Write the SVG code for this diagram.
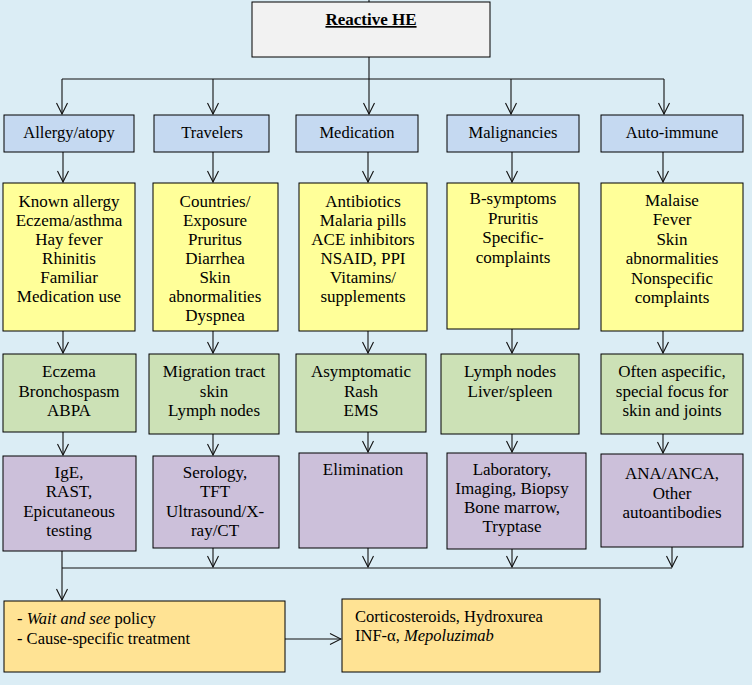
<svg xmlns="http://www.w3.org/2000/svg" width="752" height="685" viewBox="0 0 752 685" font-family="'Liberation Serif', 'Times New Roman', 'DejaVu Serif', serif">
<style>
text{font-family:'Liberation Serif','Times New Roman','DejaVu Serif',serif;font-size:17px;fill:#000;text-anchor:middle}
.box{stroke:#000;stroke-width:1}
.top{fill:#f2f2f2}
.blue{fill:#c5d9f1}
.yel{fill:#ffff99}
.grn{fill:#cce1b6}
.pur{fill:#ccc0da}
.org{fill:#ffe394}
.lbl{font-size:16.5px}
.bt{font-size:16.5px;text-anchor:start}
.con{fill:none;stroke:#111;stroke-width:1.1}
</style>
<defs>
<marker id="arr" viewBox="-12 -6 13 12" refX="0" refY="0" markerWidth="13" markerHeight="12" orient="auto" markerUnits="userSpaceOnUse">
<path d="M-11,-5.5 L0,0 L-11,5.5" fill="none" stroke="#111" stroke-width="1.1"/>
</marker>
</defs>
<rect x="0" y="0" width="752" height="685" fill="#dbedf5"/>

<g id="connectors">
<path class="con" d="M369,0 V2"/>
<path class="con" d="M369,57 V79 M62,79 H664"/>
<path class="con" marker-end="url(#arr)" d="M62,79 V114"/>
<path class="con" marker-end="url(#arr)" d="M213,79 V114"/>
<path class="con" marker-end="url(#arr)" d="M369,79 V114"/>
<path class="con" marker-end="url(#arr)" d="M511,79 V114"/>
<path class="con" marker-end="url(#arr)" d="M664,79 V114"/>

<path class="con" marker-end="url(#arr)" d="M63,152 V182"/>
<path class="con" marker-end="url(#arr)" d="M213,152 V182"/>
<path class="con" marker-end="url(#arr)" d="M368,152 V182"/>
<path class="con" marker-end="url(#arr)" d="M512,152 V182"/>
<path class="con" marker-end="url(#arr)" d="M663,152 V182"/>

<path class="con" marker-end="url(#arr)" d="M63,331 V353"/>
<path class="con" marker-end="url(#arr)" d="M213,331 V353"/>
<path class="con" marker-end="url(#arr)" d="M368,331 V353"/>
<path class="con" marker-end="url(#arr)" d="M512,329 V353"/>
<path class="con" marker-end="url(#arr)" d="M663,331 V353"/>

<path class="con" marker-end="url(#arr)" d="M63,432 V455"/>
<path class="con" marker-end="url(#arr)" d="M213,434 V455"/>
<path class="con" marker-end="url(#arr)" d="M368,432 V452"/>
<path class="con" marker-end="url(#arr)" d="M512,434 V452"/>
<path class="con" marker-end="url(#arr)" d="M663,434 V453"/>

<path class="con" d="M62,568 H672"/>
<path class="con" marker-end="url(#arr)" d="M62,551 V600"/>
<path class="con" marker-end="url(#arr)" d="M213,548 V567"/>
<path class="con" marker-end="url(#arr)" d="M368,548 V567"/>
<path class="con" marker-end="url(#arr)" d="M512,549 V567"/>
<path class="con" marker-end="url(#arr)" d="M672,547 V567"/>

<path class="con" marker-end="url(#arr)" d="M285,639 H341"/>
</g>

<g id="reactive-he">
<rect class="box top" x="252" y="2" width="238" height="55"/>
<text x="371" y="25" font-weight="bold" text-decoration="underline">Reactive HE</text>
</g>

<g id="allergy">
<rect class="box blue" x="4" y="115" width="130" height="37"/>
<text class="lbl" x="69" y="138">Allergy/atopy</text>
</g>
<g id="travelers">
<rect class="box blue" x="154" y="115" width="115" height="37"/>
<text class="lbl" x="212" y="138">Travelers</text>
</g>
<g id="medication">
<rect class="box blue" x="296" y="115" width="122" height="37"/>
<text class="lbl" x="357" y="138">Medication</text>
</g>
<g id="malignancies">
<rect class="box blue" x="447" y="115" width="132" height="37"/>
<text class="lbl" x="513" y="138">Malignancies</text>
</g>
<g id="auto-immune">
<rect class="box blue" x="601" y="115" width="142" height="37"/>
<text class="lbl" x="672" y="138">Auto-immune</text>
</g>

<g id="allergy-symptoms">
<rect class="box yel" x="3" y="183" width="132" height="148"/>
<text x="69" y="207"><tspan x="69">Known allergy</tspan><tspan x="69" dy="19">Eczema/asthma</tspan><tspan x="69" dy="19">Hay fever</tspan><tspan x="69" dy="19">Rhinitis</tspan><tspan x="69" dy="19">Familiar</tspan><tspan x="69" dy="19">Medication use</tspan></text>
</g>
<g id="travelers-symptoms">
<rect class="box yel" x="153" y="183" width="125" height="148"/>
<text x="215" y="207"><tspan x="215">Countries/</tspan><tspan x="215" dy="19">Exposure</tspan><tspan x="215" dy="19">Pruritus</tspan><tspan x="215" dy="19">Diarrhea</tspan><tspan x="215" dy="19">Skin</tspan><tspan x="215" dy="19">abnormalities</tspan><tspan x="215" dy="19">Dyspnea</tspan></text>
</g>
<g id="medication-symptoms">
<rect class="box yel" x="299" y="183" width="128" height="148"/>
<text x="363" y="207"><tspan x="363">Antibiotics</tspan><tspan x="363" dy="19">Malaria pills</tspan><tspan x="363" dy="19">ACE inhibitors</tspan><tspan x="363" dy="19">NSAID, PPI</tspan><tspan x="363" dy="19">Vitamins/</tspan><tspan x="363" dy="19">supplements</tspan></text>
</g>
<g id="malignancies-symptoms">
<rect class="box yel" x="447" y="183" width="132" height="146"/>
<text x="513" y="204"><tspan x="513">B-symptoms</tspan><tspan x="513" dy="19.5">Pruritis</tspan><tspan x="513" dy="19.5">Specific-</tspan><tspan x="513" dy="19.5">complaints</tspan></text>
</g>
<g id="auto-immune-symptoms">
<rect class="box yel" x="601" y="183" width="142" height="148"/>
<text x="672" y="206"><tspan x="672">Malaise</tspan><tspan x="672" dy="19.4">Fever</tspan><tspan x="672" dy="19.4">Skin</tspan><tspan x="672" dy="19.4">abnormalities</tspan><tspan x="672" dy="19.4">Nonspecific</tspan><tspan x="672" dy="19.4">complaints</tspan></text>
</g>

<g id="allergy-findings">
<rect class="box grn" x="3" y="354" width="133" height="78"/>
<text x="69" y="377"><tspan x="69">Eczema</tspan><tspan x="69" dy="19.5">Bronchospasm</tspan><tspan x="69" dy="19.5">ABPA</tspan></text>
</g>
<g id="travelers-findings">
<rect class="box grn" x="149" y="354" width="130" height="80"/>
<text x="214" y="377"><tspan x="214">Migration tract</tspan><tspan x="214" dy="19.5">skin</tspan><tspan x="214" dy="19.5">Lymph nodes</tspan></text>
</g>
<g id="medication-findings">
<rect class="box grn" x="296" y="354" width="130" height="78"/>
<text x="361" y="377"><tspan x="361">Asymptomatic</tspan><tspan x="361" dy="19.5">Rash</tspan><tspan x="361" dy="19.5">EMS</tspan></text>
</g>
<g id="malignancies-findings">
<rect class="box grn" x="441" y="354" width="138" height="80"/>
<text x="510" y="377"><tspan x="510">Lymph nodes</tspan><tspan x="510" dy="19.5">Liver/spleen</tspan></text>
</g>
<g id="auto-immune-findings">
<rect class="box grn" x="601" y="354" width="142" height="80"/>
<text x="672" y="377"><tspan x="672">Often aspecific,</tspan><tspan x="672" dy="19.5">special focus for</tspan><tspan x="672" dy="19.5">skin and joints</tspan></text>
</g>

<g id="allergy-tests">
<rect class="box pur" x="3" y="456" width="133" height="95"/>
<text x="69" y="478"><tspan x="69">IgE,</tspan><tspan x="69" dy="19.3">RAST,</tspan><tspan x="69" dy="19.3">Epicutaneous</tspan><tspan x="69" dy="19.3">testing</tspan></text>
</g>
<g id="travelers-tests">
<rect class="box pur" x="153" y="456" width="126" height="92"/>
<text x="215" y="478"><tspan x="215">Serology,</tspan><tspan x="215" dy="19.3">TFT</tspan><tspan x="215" dy="19.3">Ultrasound/X-</tspan><tspan x="215" dy="19.3">ray/CT</tspan></text>
</g>
<g id="medication-tests">
<rect class="box pur" x="299" y="453" width="128" height="95"/>
<text x="363" y="475">Elimination</text>
</g>
<g id="malignancies-tests">
<rect class="box pur" x="447" y="453" width="139" height="96"/>
<text x="512" y="475"><tspan x="512">Laboratory,</tspan><tspan x="512" dy="19">Imaging, Biopsy</tspan><tspan x="512" dy="19">Bone marrow,</tspan><tspan x="512" dy="19">Tryptase</tspan></text>
</g>
<g id="auto-immune-tests">
<rect class="box pur" x="601" y="454" width="142" height="93"/>
<text x="672" y="479"><tspan x="672">ANA/ANCA,</tspan><tspan x="672" dy="19.5">Other</tspan><tspan x="672" dy="19.5">autoantibodies</tspan></text>
</g>

<g id="wait-and-see">
<rect class="box org" x="4" y="601" width="281" height="71"/>
<text class="bt" x="17" y="624">- <tspan font-style="italic">Wait and see</tspan> policy</text>
<text class="bt" x="17" y="644">- Cause-specific treatment</text>
</g>
<g id="treatment">
<rect class="box org" x="342" y="599" width="258" height="73"/>
<text class="bt" x="355" y="622">Corticosteroids, Hydroxurea</text>
<text class="bt" x="355" y="641">INF-α, <tspan font-style="italic">Mepoluzimab</tspan></text>
</g>
</svg>
